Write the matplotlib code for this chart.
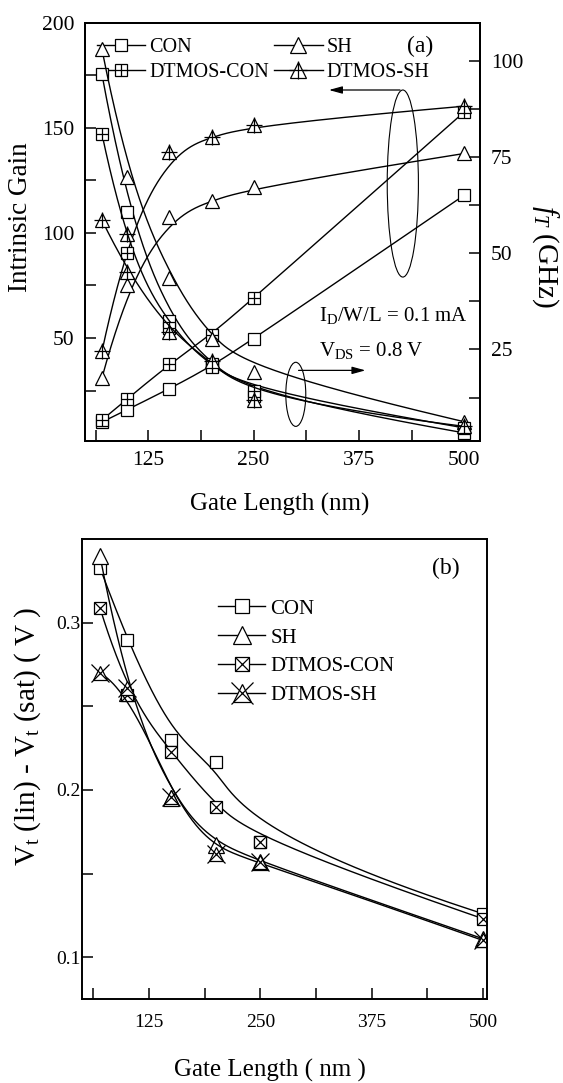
import numpy as np
import matplotlib
matplotlib.use("Agg")
import matplotlib.pyplot as plt
from matplotlib.patches import Ellipse
from matplotlib.ticker import FixedLocator

plt.rcParams['font.family'] = ['Liberation Serif', 'DejaVu Serif']
plt.rcParams['mathtext.fontset'] = 'custom'
plt.rcParams['mathtext.rm'] = 'Liberation Serif'
plt.rcParams['mathtext.it'] = 'Liberation Serif:italic'

gate_len = [70, 100, 150, 200, 250, 500]

# (a) intrinsic gain (left axis)
gain_con = [10.0, 15.9, 25.8, 36.5, 49.5, 118.0]
gain_sh = [31.0, 75.2, 107.6, 115.2, 121.8, 137.8]
gain_dtcon = [11.0, 21.0, 37.8, 51.5, 68.9, 157.6]
gain_dtsh = [43.6, 99.4, 138.4, 145.5, 151.5, 160.3]

# (a) fT in GHz (right axis)
ft_con = [96.5, 60.8, 32.4, 21.2, 13.0, 3.3]
ft_sh = [103.0, 69.8, 43.5, 27.7, 19.1, 6.2]
ft_dtcon = [81.0, 50.0, 30.5, 20.4, 14.1, 4.6]
ft_dtsh = [58.6, 45.2, 29.4, 22.0, 11.9, 5.0]

# (b) Vt(lin) - Vt(sat) in V
dvt_con = [0.333, 0.290, 0.230, 0.217, 0.169, 0.126]
dvt_sh = [0.340, 0.258, 0.195, 0.167, 0.157, 0.111]
dvt_dtcon = [0.309, 0.257, 0.223, 0.190, 0.169, 0.123]
dvt_dtsh = [0.270, 0.261, 0.196, 0.162, 0.157, 0.110]


def bspline(x, y, n=400):
    # clamped cubic B-spline with the points as control points (Origin style)
    P = np.column_stack([x, y]).astype(float)
    p = 3
    m = len(P)
    knots = np.concatenate([np.zeros(p), np.linspace(0, 1, m - p + 1), np.ones(p)])
    pts = []
    for t in np.linspace(0, 1, n):
        k = min(np.searchsorted(knots, t, side='right') - 1, m - 1)
        d = [P[j + k - p].copy() for j in range(p + 1)]
        for r in range(1, p + 1):
            for j in range(p, r - 1, -1):
                a = (t - knots[j + k - p]) / (knots[j + 1 + k - r] - knots[j + k - p])
                d[j] = (1 - a) * d[j - 1] + a * d[j]
        pts.append(d[p])
    pts = np.array(pts)
    return pts[:, 0], pts[:, 1]


def curve(ax, y, markers, ms):
    xs, ys = bspline(gate_len, y)
    ax.plot(xs, ys, color='black', lw=1.0)
    for mk, size in zip(markers, ms):
        fc = 'white' if mk in ('s', '^') else 'none'
        ax.plot(gate_len, y, ls='none', marker=mk, ms=size, mfc=fc,
                mec='black', mew=0.9)


def legend_handle(ax, markers, ms):
    hs = []
    for i, (mk, size) in enumerate(zip(markers, ms)):
        fc = 'white' if mk in ('s', '^') else 'none'
        h, = ax.plot([], [], color='black', lw=1.0 if i == 0 else 0,
                     marker=mk, ms=size, mfc=fc, mec='black', mew=0.9)
        hs.append(h)
    return tuple(hs)


fig = plt.figure(figsize=(5.63, 10.83), dpi=100)

# ---------------- (a) ----------------
ax1 = fig.add_axes([0.1501, 0.5928, 0.7025, 0.3862])
ax2 = ax1.twinx()

curve(ax1, gain_con, ['s'], [8])
curve(ax1, gain_sh, ['^'], [10])
curve(ax1, gain_dtcon, ['s', '+'], [8, 8])
curve(ax1, gain_dtsh, ['^', '+'], [10, 12])

curve(ax2, ft_con, ['s'], [8])
curve(ax2, ft_sh, ['^'], [10])
curve(ax2, ft_dtcon, ['s', '+'], [8, 8])
curve(ax2, ft_dtsh, ['^', '+'], [10, 12])

ax1.set_xlim(49.3, 518.6)
ax1.set_ylim(1, 200)
ax2.set_ylim(1.2, 109.9)

ax1.xaxis.set_major_locator(FixedLocator([125, 250, 375, 500]))
ax1.xaxis.set_minor_locator(FixedLocator([62.5, 187.5, 312.5, 437.5]))
ax1.yaxis.set_major_locator(FixedLocator([50, 100, 150, 200]))
ax1.yaxis.set_minor_locator(FixedLocator([25, 75, 125, 175]))
ax2.yaxis.set_major_locator(FixedLocator([25, 50, 75, 100]))
ax2.yaxis.set_minor_locator(FixedLocator([12.5, 37.5, 62.5, 87.5]))

ax1.tick_params(which='both', direction='in', length=8, width=1.1,
                top=False, right=False, labelsize=15.5, pad=7)
ax2.tick_params(which='both', direction='in', length=8, width=1.1,
                labelsize=15.5, pad=8)
for ax in (ax1, ax2):
    for s in ax.spines.values():
        s.set_linewidth(1.4)

leg_hs = [legend_handle(ax1, ['s'], [9]), legend_handle(ax1, ['^'], [11]),
          legend_handle(ax1, ['s', '+'], [9, 9]), legend_handle(ax1, ['^', '+'], [11, 13])]
# columns read CON / DTMOS-CON and SH / DTMOS-SH
ax1.legend([leg_hs[0], leg_hs[2], leg_hs[1], leg_hs[3]],
           ['CON', 'DTMOS-CON', 'SH', 'DTMOS-SH'], ncol=2,
           loc='upper left', bbox_to_anchor=(0.032, 0.963), frameon=False,
           fontsize=14.5, handlelength=2.4, handletextpad=0.2,
           columnspacing=0.25, labelspacing=0.3, borderpad=0, borderaxespad=0)

ax1.text(447, 188.6, '(a)', fontsize=17, ha='center', va='center')

# circle + arrow for the gain curves
ax1.add_patch(Ellipse((427, 123.5), 37, 89, fill=False, lw=0.8))
ax1.annotate('', xy=(336, 168), xytext=(427, 168),
             arrowprops=dict(arrowstyle='-|>,head_length=0.8,head_width=0.22',
                             color='black', lw=0.9))
# circle + arrow for the fT curves
ax1.add_patch(Ellipse((300, 23.2), 23.7, 30.5, fill=False, lw=0.8))
ax1.annotate('', xy=(386, 34.6), xytext=(300, 34.6),
             arrowprops=dict(arrowstyle='-|>,head_length=0.8,head_width=0.22',
                             color='black', lw=0.9))

ax1.text(328, 60.8, r'I$_\mathrm{D}$/W/L = 0.1 mA', fontsize=15, ha='left', va='center')
ax1.text(328, 44.1, r'V$_\mathrm{DS}$ = 0.8 V', fontsize=15, ha='left', va='center')

fig.text(0.037, 0.799, 'Intrinsic Gain', rotation=90, fontsize=19.5,
         ha='center', va='center')
fig.text(0.968, 0.763, r'$f_T$ (GHz)', rotation=270, fontsize=21,
         ha='center', va='center')
fig.text(0.497, 0.5345, 'Gate Length (nm)', fontsize=18, ha='center', va='center')

# ---------------- (b) ----------------
ax3 = fig.add_axes([0.1451, 0.0776, 0.7192, 0.4245])

curve(ax3, dvt_con, ['s'], [8])
curve(ax3, dvt_sh, ['^'], [11])
curve(ax3, dvt_dtcon, ['s', 'x'], [8, 8])
curve(ax3, dvt_dtsh, ['^', 'x'], [10, 13])

ax3.set_xlim(49.5, 504)
ax3.set_ylim(0.075, 0.35)
ax3.xaxis.set_major_locator(FixedLocator([125, 250, 375, 500]))
ax3.xaxis.set_minor_locator(FixedLocator([62.5, 187.5, 312.5, 437.5]))
ax3.yaxis.set_major_locator(FixedLocator([0.1, 0.2, 0.3]))
ax3.yaxis.set_minor_locator(FixedLocator([0.15, 0.25]))
ax3.yaxis.set_major_formatter(plt.FuncFormatter(lambda v, p: f'{v:.1f}'))
ax3.tick_params(which='both', direction='in', length=8, width=1.1,
                top=False, right=False, labelsize=14)
ax3.tick_params(axis='y', pad=1)
ax3.tick_params(axis='x', pad=11)
for s in ax3.spines.values():
    s.set_linewidth(1.4)

leg3 = [legend_handle(ax3, ['s'], [10]), legend_handle(ax3, ['^'], [13]),
        legend_handle(ax3, ['s', 'x'], [10, 10]), legend_handle(ax3, ['^', 'x'], [13, 16])]
ax3.legend(leg3, ['CON', 'SH', 'DTMOS-CON', 'DTMOS-SH'], loc='upper left',
           bbox_to_anchor=(0.337, 0.870), frameon=False, fontsize=15,
           handlelength=2.25, handletextpad=0.25, labelspacing=0.45,
           borderpad=0, borderaxespad=0)

ax3.text(457.9, 0.3326, '(b)', fontsize=17, ha='center', va='center')

fig.text(0.049, 0.32, r'V$_\mathrm{t}$ (lin) - V$_\mathrm{t}$ (sat) ( V )',
         rotation=90, fontsize=21, ha='center', va='center')
fig.text(0.48, 0.012, 'Gate Length ( nm )', fontsize=18, ha='center', va='center')

fig.savefig('out.png', dpi=100)
